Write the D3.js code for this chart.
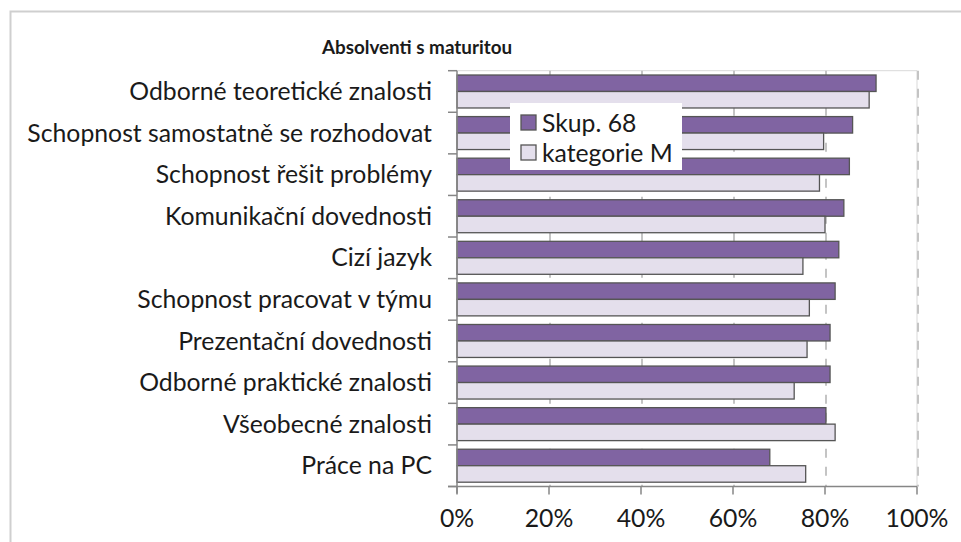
<!DOCTYPE html>
<html><head><meta charset="utf-8">
<script src="https://cdn.jsdelivr.net/npm/d3@7"></script>
<style>
html,body{margin:0;padding:0;background:#fff;}
svg{display:block;}
text{font-family:Lato,"Open Sans",sans-serif;fill:#1a1a1a;}
</style></head>
<body>
<svg id="chart" width="961" height="542"></svg>
<script>
const title = "Absolventi s maturitou";
const categories = [
  "Odborné teoretické znalosti",
  "Schopnost samostatně se rozhodovat",
  "Schopnost řešit problémy",
  "Komunikační dovednosti",
  "Cizí jazyk",
  "Schopnost pracovat v týmu",
  "Prezentační dovednosti",
  "Odborné praktické znalosti",
  "Všeobecné znalosti",
  "Práce na PC"
];
const seriesNames = ["Skup. 68", "kategorie M"];
const skup68 = [0.911, 0.860, 0.853, 0.841, 0.830, 0.822, 0.811, 0.811, 0.802, 0.680];
const kategorieM = [0.896, 0.797, 0.788, 0.800, 0.752, 0.766, 0.761, 0.733, 0.822, 0.758];
const xTicks = [0, 0.2, 0.4, 0.6, 0.8, 1.0];
const colors = ["#8064A2", "#E4DFEC"];

const svg = d3.select("#chart");
const L = 457, R = 917, T = 70.7, B = 486.5;

// outer frame
svg.append("rect").attr("x", 10.5).attr("y", 11.5).attr("width", 1000).attr("height", 1000)
  .attr("fill", "none").attr("stroke", "#cfcfcf").attr("stroke-width", 2);

const x = d3.scaleLinear().domain([0, 1]).range([L, R]);
const y = d3.scaleBand().domain(categories).range([T, B]).paddingInner(0.207).paddingOuter(0.1035);
const sub = d3.scaleBand().domain(seriesNames).range([0, y.bandwidth()]);
const yOuter = d3.scaleBand().domain(categories).range([T, B]);

// plot border top/right
svg.append("path").attr("d", `M${L},${T}H${R}V${B}`).attr("fill", "none")
  .attr("stroke", "#d9d9d9").attr("stroke-width", 1);

// gridlines
svg.append("g").selectAll("line").data(xTicks.filter(d => d > 0)).join("line")
  .attr("x1", d => x(d) + 1).attr("x2", d => x(d) + 1).attr("y1", T).attr("y2", B)
  .attr("stroke", "#c4c4c4").attr("stroke-width", 2).attr("stroke-dasharray", "9,9");

// bars
const data = categories.map((c, i) => ({c, vals: [skup68[i], kategorieM[i]]}));
const g = svg.append("g").selectAll("g").data(data).join("g")
  .attr("transform", d => `translate(0,${y(d.c)})`);
g.selectAll("rect").data(d => d.vals.map((v, j) => ({v, s: seriesNames[j], j}))).join("rect")
  .attr("x", x(0)).attr("y", d => sub(d.s)).attr("width", d => x(d.v) - x(0)).attr("height", sub.bandwidth())
  .attr("fill", d => colors[d.j]).attr("stroke", "#555").attr("stroke-width", 1.3);

// y axis
const yAxis = svg.append("g");
yAxis.append("line").attr("x1", L).attr("x2", L).attr("y1", T).attr("y2", B + 7).attr("stroke", "#868686").attr("stroke-width", 1.5);
const bounds = categories.map(c => yOuter(c)).concat([B]);
yAxis.selectAll("line.t").data(bounds).join("line").attr("class", "t")
  .attr("x1", L - 9).attr("x2", L).attr("y1", d => d).attr("y2", d => d)
  .attr("stroke", "#868686").attr("stroke-width", 1.5);

const labels = svg.append("g").selectAll("text").data(categories).join("text")
  .attr("x", 432).attr("y", d => yOuter(d) + yOuter.bandwidth() / 2)
  .attr("text-anchor", "end").attr("dy", "0.35em").text(d => d);
// fit font size so widest label ~405px
labels.style("font-size", "20px");
let maxW = 0; labels.each(function(){ maxW = Math.max(maxW, this.getComputedTextLength()); });
const fs = 20 * 405 / maxW;
labels.style("font-size", fs + "px");

// x axis
const xa = svg.append("g");
xa.append("line").attr("x1", L - 9).attr("x2", R).attr("y1", B).attr("y2", B).attr("stroke", "#868686").attr("stroke-width", 1.5);
xa.selectAll("line.t").data(xTicks).join("line").attr("class", "t")
  .attr("x1", d => x(d)).attr("x2", d => x(d)).attr("y1", B).attr("y2", B + 8)
  .attr("stroke", "#868686").attr("stroke-width", 1.5);
xa.selectAll("text").data(xTicks).join("text")
  .attr("x", d => x(d)).attr("y", 527).attr("text-anchor", "middle")
  .style("font-size", fs + "px").text(d3.format(".0%"));

// title
svg.append("text").attr("x", 417).attr("y", 54).attr("text-anchor", "middle")
  .style("font-size", (fs * 0.76) + "px").style("font-weight", "bold").text(title);

// legend
const lg = svg.append("g");
lg.append("rect").attr("x", 510).attr("y", 103).attr("width", 172).attr("height", 67).attr("fill", "#fff");
seriesNames.forEach((s, i) => {
  const cy = 123 + i * 30;
  lg.append("rect").attr("x", 521).attr("y", cy - 8).attr("width", 15).attr("height", 15)
    .attr("fill", colors[i]).attr("stroke", "#555").attr("stroke-width", 1.3);
  lg.append("text").attr("x", 542).attr("y", cy).attr("dy", "0.35em")
    .style("font-size", fs + "px").text(s);
});
</script>
</body></html>
